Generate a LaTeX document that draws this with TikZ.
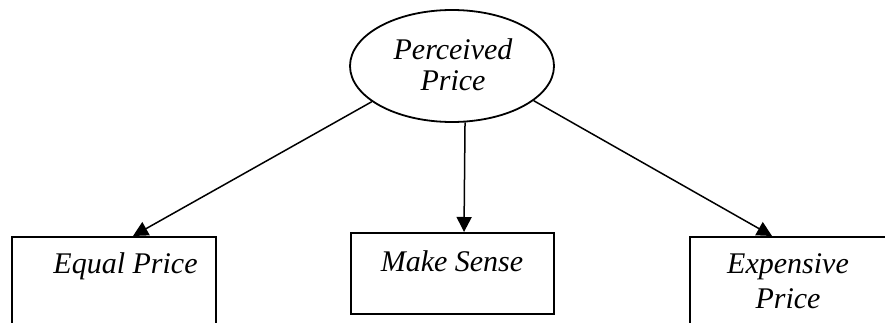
\documentclass[tikz,border=0pt]{standalone}
\usepackage{fontspec}
\setmainfont{Liberation Serif}
\usetikzlibrary{shapes.geometric,arrows.meta}
\begin{document}
\begin{tikzpicture}[x=1pt,y=-1pt,
  line width=1.8pt,
  conn/.style={-{Triangle[length=15pt,width=15pt]}, line width=1.5pt},
  boxnode/.style={draw, rectangle, line width=1.8pt, inner sep=0pt},
  txt/.style={font=\fontsize{30}{31}\selectfont\itshape, align=center, inner sep=0pt}]
\useasboundingbox[fill=white] (0,0) rectangle (885,323);
\node[draw, ellipse, line width=1.8pt, minimum width=204pt, minimum height=112pt, inner sep=0pt] (ell) at (452,66) {};
\node[txt, anchor=base] (tpp) at (453,91) {Perceived\\Price};
\node[boxnode, minimum width=204pt, minimum height=120pt, anchor=north] (eq) at (114,236) {};
\node[boxnode, minimum width=203pt, minimum height=81pt, anchor=north] (ms) at (452.5,232) {};
\node[boxnode, minimum width=204pt, minimum height=120pt, anchor=north] (ex) at (792,236) {};
\node[txt, anchor=base] (teq) at (125.5,273) {Equal Price};
\node[txt, anchor=base] (tms) at (452,271) {Make Sense};
\node[txt, anchor=base] (tex) at (788,308) {Expensive\\[4pt]Price};
\draw[conn] (ell.-156.4) -- ([xshift=19pt]eq.north);
\draw[conn] (ell.-77.9) -- ([xshift=11.5pt]ms.north);
\draw[conn] (ell.-23.6) -- ([xshift=-20pt]ex.north);
\end{tikzpicture}
\end{document}
